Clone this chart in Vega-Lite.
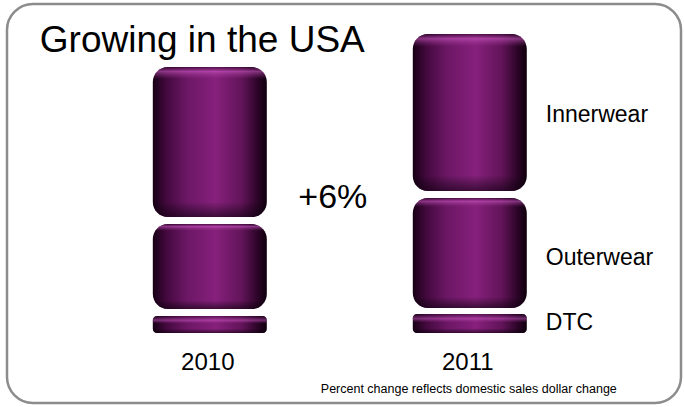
{
  "$schema": "https://vega.github.io/schema/vega-lite/v6.json",
  "width": 684,
  "height": 407,
  "autosize": {"type": "fit", "contains": "padding"},
  "padding": {"left": 7, "top": 4, "right": 3, "bottom": 4},
  "background": "white",
  "config": {
    "view": {"stroke": "#8c8c8c", "strokeWidth": 2.5, "cornerRadius": 26, "fill": "white"},
    "text": {"font": "Liberation Sans", "color": "black", "baseline": "alphabetic"}
  },
  "datasets": {
    "bars": [
      {"year": "2010", "seg": "DTC", "v": 0, "v2": 17},
      {"year": "2010", "seg": "Outerwear", "v": 24, "v2": 109},
      {"year": "2010", "seg": "Innerwear", "v": 116, "v2": 266},
      {"year": "2011", "seg": "DTC", "v": 0, "v2": 19},
      {"year": "2011", "seg": "Outerwear", "v": 25, "v2": 135},
      {"year": "2011", "seg": "Innerwear", "v": 142, "v2": 299}
    ],
    "texts": [
      {"kind": "title", "year": "2010", "v": 281, "text": "Growing in the USA"},
      {"kind": "change", "year": "2010", "v": 125, "text": "+6%"},
      {"kind": "yearlab", "year": "2010", "v": -37, "text": "2010"},
      {"kind": "yearlab", "year": "2011", "v": -37, "text": "2011"},
      {"kind": "seglab", "year": "2011", "v": 211, "text": "Innerwear"},
      {"kind": "seglab", "year": "2011", "v": 68, "text": "Outerwear"},
      {"kind": "seglab", "year": "2011", "v": 3, "text": "DTC"},
      {"kind": "note", "year": "2011", "v": -60, "text": "Percent change reflects domestic sales dollar change"}
    ]
  },
  "encoding": {
    "x": {
      "field": "year", "type": "nominal",
      "scale": {"domain": ["2010", "2011"], "paddingInner": 0.5615, "paddingOuter": 0.577, "align": 0.486},
      "axis": null
    },
    "y": {
      "field": "v", "type": "quantitative",
      "scale": {"domain": [-70, 329], "nice": false, "zero": false},
      "axis": null
    }
  },
  "layer": [
    {
      "data": {"name": "bars"},
      "transform": [{"filter": "datum.seg != 'DTC'"}],
      "mark": {
        "type": "bar", "cornerRadius": 15,
        "fill": {"gradient": "linear", "x1": 0, "y1": 0, "x2": 1, "y2": 0,
          "stops": [
            {"offset": 0, "color": "#160014"},
            {"offset": 0.12, "color": "#44093f"},
            {"offset": 0.3, "color": "#6c1765"},
            {"offset": 0.55, "color": "#86207c"},
            {"offset": 0.78, "color": "#621459"},
            {"offset": 0.92, "color": "#2c0428"},
            {"offset": 1, "color": "#0e000c"}
          ]}
      },
      "encoding": {"y2": {"field": "v2"}}
    },
    {
      "data": {"name": "bars"},
      "transform": [{"filter": "datum.seg != 'DTC'"}],
      "mark": {
        "type": "bar", "cornerRadius": 15,
        "fill": {"gradient": "linear", "x1": 0, "y1": 0, "x2": 0, "y2": 1,
          "stops": [
            {"offset": 0, "color": "rgba(30,0,28,0.5)"},
            {"offset": 0.03, "color": "rgba(210,90,200,0.55)"},
            {"offset": 0.08, "color": "rgba(160,60,150,0)"},
            {"offset": 0.9, "color": "rgba(0,0,0,0)"},
            {"offset": 1, "color": "rgba(15,0,15,0.6)"}
          ]}
      },
      "encoding": {"y2": {"field": "v2"}}
    },
    {
      "data": {"name": "bars"},
      "transform": [{"filter": "datum.seg == 'DTC'"}],
      "mark": {
        "type": "bar", "cornerRadius": 4,
        "fill": {"gradient": "linear", "x1": 0, "y1": 0, "x2": 1, "y2": 0,
          "stops": [
            {"offset": 0, "color": "#160014"},
            {"offset": 0.12, "color": "#44093f"},
            {"offset": 0.3, "color": "#6c1765"},
            {"offset": 0.55, "color": "#86207c"},
            {"offset": 0.78, "color": "#621459"},
            {"offset": 0.92, "color": "#2c0428"},
            {"offset": 1, "color": "#0e000c"}
          ]}
      },
      "encoding": {"y2": {"field": "v2"}}
    },
    {
      "data": {"name": "bars"},
      "transform": [{"filter": "datum.seg == 'DTC'"}],
      "mark": {
        "type": "bar", "cornerRadius": 4,
        "fill": {"gradient": "linear", "x1": 0, "y1": 0, "x2": 0, "y2": 1,
          "stops": [
            {"offset": 0, "color": "rgba(30,0,28,0.4)"},
            {"offset": 0.25, "color": "rgba(210,90,200,0.5)"},
            {"offset": 0.45, "color": "rgba(160,60,150,0)"},
            {"offset": 0.75, "color": "rgba(0,0,0,0)"},
            {"offset": 1, "color": "rgba(15,0,15,0.6)"}
          ]}
      },
      "encoding": {"y2": {"field": "v2"}}
    },
    {
      "data": {"name": "texts"},
      "transform": [{"filter": "datum.kind == 'title'"}],
      "mark": {"type": "text", "align": "left", "dx": -170, "fontSize": 37},
      "encoding": {"text": {"field": "text"}}
    },
    {
      "data": {"name": "texts"},
      "transform": [{"filter": "datum.kind == 'change'"}],
      "mark": {"type": "text", "align": "center", "dx": 123, "fontSize": 34},
      "encoding": {"text": {"field": "text"}}
    },
    {
      "data": {"name": "texts"},
      "transform": [{"filter": "datum.kind == 'yearlab'"}],
      "mark": {"type": "text", "align": "center", "dx": -2, "fontSize": 24},
      "encoding": {"text": {"field": "text"}}
    },
    {
      "data": {"name": "texts"},
      "transform": [{"filter": "datum.kind == 'seglab'"}],
      "mark": {"type": "text", "align": "left", "dx": 76, "fontSize": 23},
      "encoding": {"text": {"field": "text"}}
    },
    {
      "data": {"name": "texts"},
      "transform": [{"filter": "datum.kind == 'note'"}],
      "mark": {"type": "text", "align": "center", "dx": -1, "fontSize": 12.5},
      "encoding": {"text": {"field": "text"}}
    }
  ]
}
